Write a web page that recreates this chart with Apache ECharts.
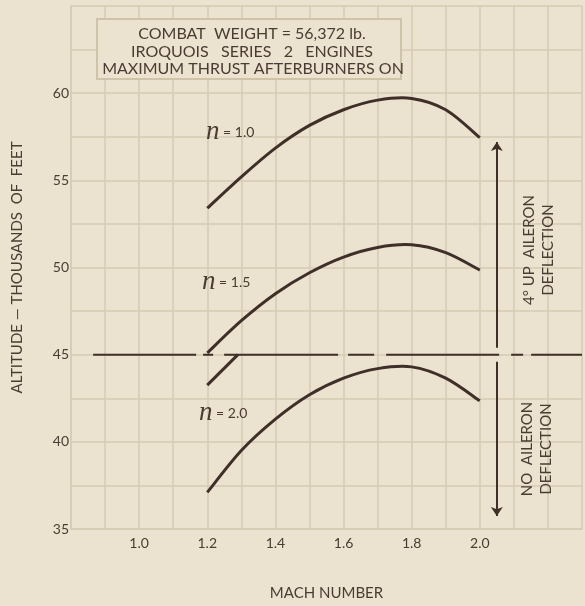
<!DOCTYPE html>
<html>
<head>
<meta charset="utf-8">
<style>
  html, body { margin: 0; padding: 0; background: #ebe3cf; }
  #chart { width: 585px; height: 606px; }
</style>
<script src="https://cdn.jsdelivr.net/npm/echarts@6/dist/echarts.min.js"></script>
</head>
<body>
<div id="chart"></div>
<script>
  const machPts = [1.2, 1.3, 1.4, 1.5, 1.6, 1.7, 1.8, 1.9, 2.0]
  // altitude, thousands of feet
  const altN10 = [53.4, 55.2, 56.85, 58.15, 59.05, 59.6, 59.7, 59.05, 57.45]
  const altN15 = [45.1, 46.95, 48.5, 49.7, 50.6, 51.15, 51.3, 50.85, 49.85]
  const altN20 = [37.1, 39.5, 41.3, 42.7, 43.65, 44.2, 44.3, 43.65, 42.35]
  // short straight piece below the 45 line
  const stubMach = [1.2, 1.29]
  const stubAlt = [43.25, 45.0]
  // 45,000 ft reference line
  const refMach = [0.865, 2.3]
  const refAlt = [45, 45]
  // aileron arrows
  const arrowMach = 2.05
  const upArrowAlt = [45.4, 57.2]
  const downArrowAlt = [44.6, 35.75]

  const xTickLabels = ['1.0', '1.2', '1.4', '1.6', '1.8', '2.0']
  const yTickLabels = ['35', '40', '45', '50', '55', '60']

  const bg = '#ebe3cf'
  const gridColor = '#d6cbb4'
  const ink = '#3f2f28'
  const textInk = '#4a3b33'
  const font = 'Lato'

  const pairs = (xs, ys) => xs.map((x, i) => [x, ys[i]])

  const chart = echarts.init(document.getElementById('chart'))

  // catmull-rom curve through the read points, drawn once per series
  function curve(xs, ys) {
    const data = pairs(xs, ys)
    return {
      type: 'custom',
      coordinateSystem: 'cartesian2d',
      data: data,
      silent: true,
      clip: false,
      renderItem: function (params, api) {
        if (params.dataIndex !== 0) return
        const p = data.map(d => api.coord(d))
        let path = 'M' + p[0][0] + ' ' + p[0][1]
        for (let i = 0; i < p.length - 1; i++) {
          const p0 = p[i - 1] || p[i]
          const p1 = p[i]
          const p2 = p[i + 1]
          const p3 = p[i + 2] || p[i + 1]
          const c1x = p1[0] + (p2[0] - p0[0]) / 6
          const c1y = p1[1] + (p2[1] - p0[1]) / 6
          const c2x = p2[0] - (p3[0] - p1[0]) / 6
          const c2y = p2[1] - (p3[1] - p1[1]) / 6
          path += ' C' + c1x + ' ' + c1y + ' ' + c2x + ' ' + c2y + ' ' + p2[0] + ' ' + p2[1]
        }
        return {
          type: 'path',
          shape: { pathData: path },
          style: { fill: 'none', stroke: ink, lineWidth: 3 }
        }
      }
    }
  }

  function arrow(alts) {
    return {
      type: 'line',
      data: [],
      silent: true,
      markLine: {
        silent: true,
        symbol: ['none', 'arrow'],
        symbolSize: 9,
        label: { show: false },
        lineStyle: { color: ink, width: 2, type: 'solid' },
        data: [[{ coord: [arrowMach, alts[0]] }, { coord: [arrowMach, alts[1]] }]]
      }
    }
  }

  function curveLabel(x, y, val) {
    return {
      type: 'text',
      x: x, y: y, z: 100,
      style: {
        text: '{n|n}{t| = ' + val + '}',
        verticalAlign: 'middle',
        rich: {
          n: { fontFamily: 'Liberation Serif', fontStyle: 'italic', fontSize: 27, fill: textInk },
          t: { fontFamily: font, fontSize: 14, fill: textInk }
        }
      }
    }
  }

  const option = {
    backgroundColor: bg,
    animation: false,
    grid: { left: 71, top: 6, width: 522, height: 525 },
    xAxis: {
      type: 'value',
      min: 0.8, max: 2.3, interval: 0.1,
      name: 'MACH NUMBER',
      nameLocation: 'middle',
      nameGap: 57,
      nameTextStyle: { fontFamily: font, fontSize: 15, color: textInk },
      axisLine: { show: true, lineStyle: { color: gridColor, width: 1.5 } },
      axisTick: { show: false },
      splitLine: { show: true, lineStyle: { color: gridColor, width: 1.5 } },
      axisLabel: {
        margin: 7,
        fontFamily: font, fontSize: 14, color: textInk,
        formatter: v => xTickLabels.includes(v.toFixed(1)) ? v.toFixed(1) : ''
      }
    },
    yAxis: {
      type: 'value',
      min: 35, max: 65, interval: 2.5,
      name: 'ALTITUDE — THOUSANDS  OF  FEET',
      nameLocation: 'middle',
      nameGap: 46,
      nameTextStyle: { fontFamily: font, fontSize: 15, color: textInk },
      axisLine: { show: true, lineStyle: { color: gridColor, width: 1.5 } },
      axisTick: { show: false },
      splitLine: { show: true, lineStyle: { color: gridColor, width: 1.5 } },
      axisLabel: {
        margin: 2,
        fontFamily: font, fontSize: 14, color: textInk,
        formatter: v => yTickLabels.includes(String(v)) ? String(v) : ''
      }
    },
    series: [
      curve(machPts, altN10),
      curve(machPts, altN15),
      curve(machPts, altN20),
      {
        type: 'line',
        data: pairs(stubMach, stubAlt),
        symbol: 'none',
        lineStyle: { color: ink, width: 3 },
        silent: true
      },
      {
        type: 'line',
        data: pairs(refMach, refAlt),
        symbol: 'none',
        // hand drawn long/short dash pattern
        lineStyle: { color: ink, width: 2, type: [103, 7, 10, 11, 114, 10, 26, 12, 113, 12, 12, 8, 100, 8] },
        silent: true
      },
      arrow(upArrowAlt),
      arrow(downArrowAlt)
    ],
    graphic: [
      {
        type: 'rect', z: 100,
        shape: { x: 97, y: 19, width: 304, height: 60 },
        style: { fill: bg, stroke: '#cfc3aa', lineWidth: 2 }
      },
      {
        type: 'text', z: 101, x: 252, y: 34,
        style: { text: 'COMBAT  WEIGHT = 56,372 lb.', fontFamily: font, fontSize: 16, fill: textInk, align: 'center', verticalAlign: 'middle' }
      },
      {
        type: 'text', z: 101, x: 252, y: 52,
        style: { text: 'IROQUOIS   SERIES   2   ENGINES', fontFamily: font, fontSize: 16, fill: textInk, align: 'center', verticalAlign: 'middle' }
      },
      {
        type: 'text', z: 101, x: 253, y: 69,
        style: { text: 'MAXIMUM THRUST AFTERBURNERS ON', fontFamily: font, fontSize: 16, fill: textInk, align: 'center', verticalAlign: 'middle' }
      },
      curveLabel(206, 132, '1.0'),
      curveLabel(202, 282, '1.5'),
      curveLabel(199, 413, '2.0'),
      {
        type: 'text', z: 100, x: 539, y: 250, rotation: Math.PI / 2,
        style: { text: '4° UP  AILERON\nDEFLECTION', fontFamily: font, fontSize: 15, lineHeight: 19, fill: textInk, align: 'center', verticalAlign: 'middle' }
      },
      {
        type: 'text', z: 100, x: 537, y: 449, rotation: Math.PI / 2,
        style: { text: 'NO  AILERON\nDEFLECTION', fontFamily: font, fontSize: 15, lineHeight: 19, fill: textInk, align: 'center', verticalAlign: 'middle' }
      }
    ]
  }

  chart.setOption(option)
</script>
</body>
</html>
